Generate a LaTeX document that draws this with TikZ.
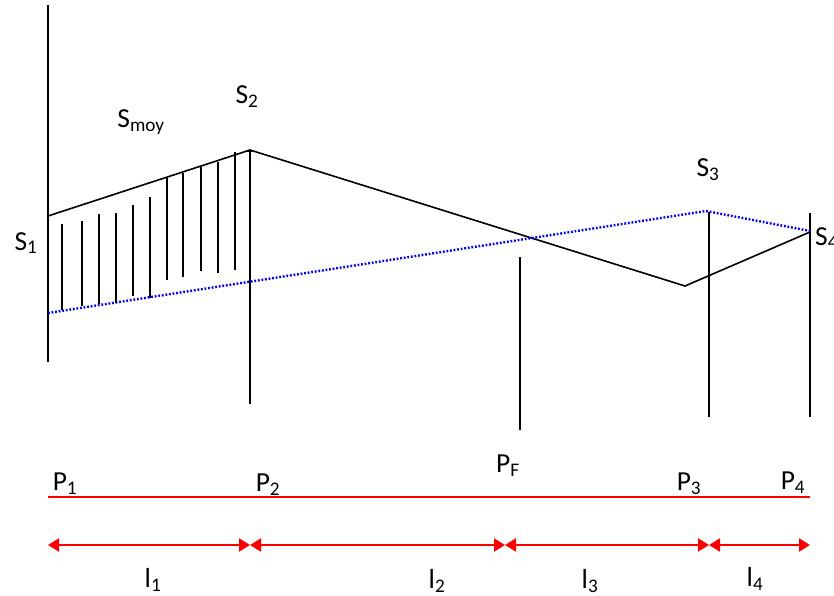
\documentclass[tikz,border=0pt]{standalone}
\usepackage{fontspec}
\setmainfont{Carlito}
\usetikzlibrary{arrows.meta}
\newcommand{\mysb}[1]{\textsubscript{#1}}
\begin{document}
\begin{tikzpicture}[x=1pt,y=-1pt,
  lbl/.style={font=\fontsize{27.5}{32}\selectfont, inner sep=0pt},
  blk/.style={line width=1.6pt, black},
  bluedot/.style={blue, line width=2.4pt, dash pattern=on 1.8pt off 1.8pt},
  redline/.style={red, line width=2.6pt},
  dimarrow/.style={red, line width=2.2pt, {Triangle[length=11pt,width=13pt]}-{Triangle[length=11pt,width=13pt]}},
  hatch/.style={line width=1.6pt, black}]
\useasboundingbox (0,0) rectangle (834,596);
% key points
\coordinate (s1) at (48,216);
\coordinate (s2) at (250,150);
\coordinate (low) at (685,286);
\coordinate (s4) at (810,232);
\coordinate (b1) at (48,313);
\coordinate (b3) at (706,211);
\coordinate (b4) at (810,231);
% vertical lines
\coordinate (v1t) at (48,5);   \coordinate (v1b) at (48,362);
\coordinate (v2t) at (250,150); \coordinate (v2b) at (250,404);
\coordinate (vft) at (520,257); \coordinate (vfb) at (520,430);
\coordinate (v3t) at (709,212); \coordinate (v3b) at (709,417);
\coordinate (v4t) at (810,213); \coordinate (v4b) at (810,417);
\draw[blk] (v1t) -- (v1b);
\draw[blk] (v2t) -- (v2b);
\draw[blk] (vft) -- (vfb);
\draw[blk] (v3t) -- (v3b);
\draw[blk] (v4t) -- (v4b);
% profile
\draw[blk] (s1) -- (s2) -- (low) -- (s4);
\draw[blk] (246,151) -- (252,151);
% blue dotted
\draw[bluedot] (b1) -- (b3) -- (b4);
% hatching
\foreach \x/\t/\b in {62/224/310, 82/221/306, 99/214/304, 116/213/303, 133/205/296, 150/197/298,
                      167/178/280, 183/173/277, 201/167/271, 218/162/273, 235/152/270}
  \draw[hatch] (\x,\t) -- (\x,\b);
% red axis
\coordinate (p1) at (48,497);
\coordinate (p4) at (810,497);
\draw[redline] (p1) -- (p4);
\coordinate (a1) at (48,545);
\coordinate (a2) at (250,545);
\coordinate (a3) at (505,545);
\coordinate (a4) at (709,545);
\coordinate (a5) at (810,545);
\draw[dimarrow] (a1) -- (a2);
\draw[dimarrow] (a2) -- (a3);
\draw[dimarrow] (a3) -- (a4);
\draw[dimarrow] (a4) -- (a5);
% labels
\node[lbl] (ls1) at (26,243) {S\mysb{1}};
\node[lbl] (ls2) at (247,97) {S\mysb{2}};
\node[lbl] (lsm) at (141,122) {S\mysb{moy}};
\node[lbl] (ls3) at (708,170) {S\mysb{3}};
\node[lbl,anchor=west] (ls4) at (815,238) {S\mysb{4}};
\node[lbl] (lp1) at (65,484) {P\mysb{1}};
\node[lbl] (lp2) at (268,485) {P\mysb{2}};
\node[lbl] (lpf) at (508,466) {P\mysb{F}};
\node[lbl] (lp3) at (689,484) {P\mysb{3}};
\node[lbl] (lp4) at (793,483) {P\mysb{4}};
\node[lbl] (ll1) at (153,580) {l\mysb{1}};
\node[lbl] (ll2) at (437,581) {l\mysb{2}};
\node[lbl] (ll3) at (590,581) {l\mysb{3}};
\node[lbl] (ll4) at (755,579) {l\mysb{4}};
\end{tikzpicture}
\end{document}
